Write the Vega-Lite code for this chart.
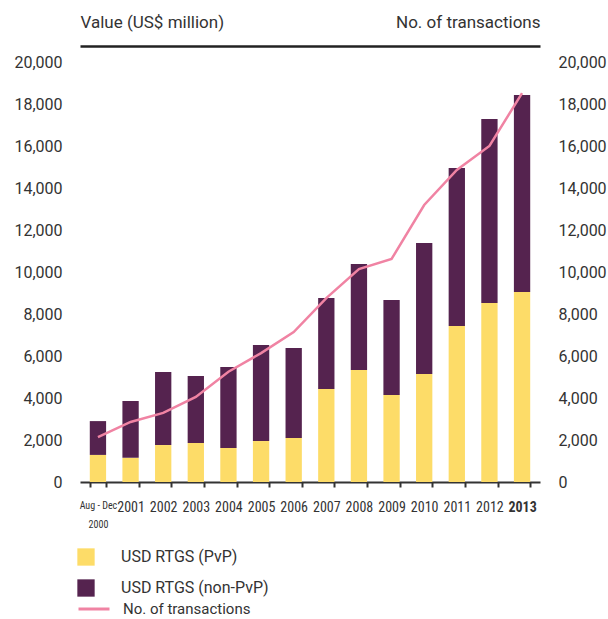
{
  "$schema": "https://vega.github.io/schema/vega-lite/v6.json",
  "width": 460,
  "height": 420,
  "autosize": {"type": "none"},
  "padding": {"left": 80, "top": 62, "right": 68, "bottom": 137},
  "config": {
    "view": {"stroke": null},
    "font": "Roboto, sans-serif",
    "axis": {"labelColor": "#333333", "titleColor": "#333333", "labelFont": "Roboto, sans-serif", "titleFont": "Roboto, sans-serif"},
    "legend": {"labelColor": "#333333", "labelFont": "Roboto, sans-serif"}
  },
  "datasets": {
    "bars": [
      {"period": "Aug-Dec 2000", "series": "USD RTGS (PvP)", "value": 1290},
      {"period": "Aug-Dec 2000", "series": "USD RTGS (non-PvP)", "value": 1610},
      {"period": "2001", "series": "USD RTGS (PvP)", "value": 1150},
      {"period": "2001", "series": "USD RTGS (non-PvP)", "value": 2710},
      {"period": "2002", "series": "USD RTGS (PvP)", "value": 1760},
      {"period": "2002", "series": "USD RTGS (non-PvP)", "value": 3480},
      {"period": "2003", "series": "USD RTGS (PvP)", "value": 1860},
      {"period": "2003", "series": "USD RTGS (non-PvP)", "value": 3190},
      {"period": "2004", "series": "USD RTGS (PvP)", "value": 1620},
      {"period": "2004", "series": "USD RTGS (non-PvP)", "value": 3860},
      {"period": "2005", "series": "USD RTGS (PvP)", "value": 1950},
      {"period": "2005", "series": "USD RTGS (non-PvP)", "value": 4570},
      {"period": "2006", "series": "USD RTGS (PvP)", "value": 2100},
      {"period": "2006", "series": "USD RTGS (non-PvP)", "value": 4280},
      {"period": "2007", "series": "USD RTGS (PvP)", "value": 4430},
      {"period": "2007", "series": "USD RTGS (non-PvP)", "value": 4330},
      {"period": "2008", "series": "USD RTGS (PvP)", "value": 5330},
      {"period": "2008", "series": "USD RTGS (non-PvP)", "value": 5050},
      {"period": "2009", "series": "USD RTGS (PvP)", "value": 4140},
      {"period": "2009", "series": "USD RTGS (non-PvP)", "value": 4530},
      {"period": "2010", "series": "USD RTGS (PvP)", "value": 5140},
      {"period": "2010", "series": "USD RTGS (non-PvP)", "value": 6240},
      {"period": "2011", "series": "USD RTGS (PvP)", "value": 7430},
      {"period": "2011", "series": "USD RTGS (non-PvP)", "value": 7520},
      {"period": "2012", "series": "USD RTGS (PvP)", "value": 8520},
      {"period": "2012", "series": "USD RTGS (non-PvP)", "value": 8770},
      {"period": "2013", "series": "USD RTGS (PvP)", "value": 9050},
      {"period": "2013", "series": "USD RTGS (non-PvP)", "value": 9380}
    ],
    "line": [
      {"period": "Aug-Dec 2000", "series": "No. of transactions", "transactions": 2140},
      {"period": "2001", "series": "No. of transactions", "transactions": 2860},
      {"period": "2002", "series": "No. of transactions", "transactions": 3290},
      {"period": "2003", "series": "No. of transactions", "transactions": 4050},
      {"period": "2004", "series": "No. of transactions", "transactions": 5250},
      {"period": "2005", "series": "No. of transactions", "transactions": 6140},
      {"period": "2006", "series": "No. of transactions", "transactions": 7140},
      {"period": "2007", "series": "No. of transactions", "transactions": 8760},
      {"period": "2008", "series": "No. of transactions", "transactions": 10140},
      {"period": "2009", "series": "No. of transactions", "transactions": 10620},
      {"period": "2010", "series": "No. of transactions", "transactions": 13190},
      {"period": "2011", "series": "No. of transactions", "transactions": 14860},
      {"period": "2012", "series": "No. of transactions", "transactions": 16000},
      {"period": "2013", "series": "No. of transactions", "transactions": 18520}
    ]
  },
  "layer": [
    {
      "data": {"name": "bars"},
      "mark": {"type": "bar"},
      "encoding": {
        "x": {
          "field": "period", "type": "nominal",
          "sort": ["Aug-Dec 2000", "2001", "2002", "2003", "2004", "2005", "2006", "2007", "2008", "2009", "2010", "2011", "2012", "2013"],
          "scale": {"paddingInner": 0.5, "paddingOuter": 0.3},
          "axis": {
            "title": null,
            "labelAngle": 0,
            "labelFont": "Roboto Condensed, DejaVu Sans Condensed, Liberation Sans Narrow, Roboto, sans-serif",
            "domainColor": "#333333", "domainWidth": 2,
            "tickColor": "#333333", "tickWidth": 2, "tickSize": 5, "tickBand": "extent",
            "labelPadding": 13,
            "labelBaseline": "top",
            "labelLineHeight": 19,
            "labelExpr": "datum.value == 'Aug-Dec 2000' ? ['Aug - Dec', '2000'] : datum.value",
            "labelFontSize": {"condition": {"test": "datum.value == 'Aug-Dec 2000'", "value": 10}, "value": 14},
            "labelFontWeight": {"condition": {"test": "datum.value == '2013'", "value": "bold"}, "value": "normal"}
          }
        },
        "y": {
          "field": "value", "type": "quantitative", "aggregate": "sum",
          "scale": {"domain": [0, 20000], "nice": false},
          "axis": {
            "title": "Value (US$ million)",
            "titleAngle": 0, "titleAlign": "left", "titleAnchor": null,
            "titleX": 0, "titleY": -40, "titleBaseline": "middle",
            "titleFontSize": 17, "titleFontWeight": "normal",
            "grid": false, "ticks": false, "domain": false,
            "labelPadding": 18, "labelFontSize": 16,
            "values": [0, 2000, 4000, 6000, 8000, 10000, 12000, 14000, 16000, 18000, 20000],
            "format": ",.0f"
          }
        },
        "color": {
          "field": "series", "type": "nominal",
          "scale": {"domain": ["USD RTGS (PvP)", "USD RTGS (non-PvP)"], "range": ["#FDDC68", "#55234F"]},
          "legend": {
            "title": null, "orient": "none", "legendX": -3, "legendY": 486,
            "symbolType": "square", "symbolSize": 300, "symbolStrokeWidth": 0, "symbolOpacity": 1,
            "labelFontSize": 16, "labelOffset": 26, "rowPadding": 13
          }
        },
        "order": {"field": "series", "sort": "ascending"}
      }
    },
    {
      "data": {"name": "line"},
      "mark": {"type": "line", "strokeWidth": 2.5},
      "encoding": {
        "x": {
          "field": "period", "type": "nominal",
          "sort": ["Aug-Dec 2000", "2001", "2002", "2003", "2004", "2005", "2006", "2007", "2008", "2009", "2010", "2011", "2012", "2013"],
          "axis": {
            "orient": "top", "offset": 16, "title": null,
            "labels": false, "ticks": false,
            "domainColor": "#222222", "domainWidth": 2.5
          }
        },
        "y": {
          "field": "transactions", "type": "quantitative",
          "scale": {"domain": [0, 20000], "nice": false},
          "axis": {
            "orient": "right",
            "title": "No. of transactions",
            "titleAngle": 0, "titleAlign": "right", "titleAnchor": null,
            "titleX": 0, "titleY": -40, "titleBaseline": "middle",
            "titleFontSize": 17, "titleFontWeight": "normal",
            "grid": false, "ticks": false, "domain": false,
            "labelPadding": 18, "labelFontSize": 16,
            "values": [0, 2000, 4000, 6000, 8000, 10000, 12000, 14000, 16000, 18000, 20000],
            "format": ",.0f"
          }
        },
        "stroke": {
          "field": "series", "type": "nominal",
          "scale": {"domain": ["No. of transactions"], "range": ["#F083A3"]},
          "legend": {
            "title": null, "orient": "none", "legendX": -3, "legendY": 530,
            "symbolType": "stroke", "symbolSize": 961, "symbolStrokeWidth": 3,
            "labelFontSize": 15, "labelOffset": 12
          }
        }
      }
    }
  ],
  "resolve": {"scale": {"y": "independent"}, "axis": {"x": "independent"}}
}
